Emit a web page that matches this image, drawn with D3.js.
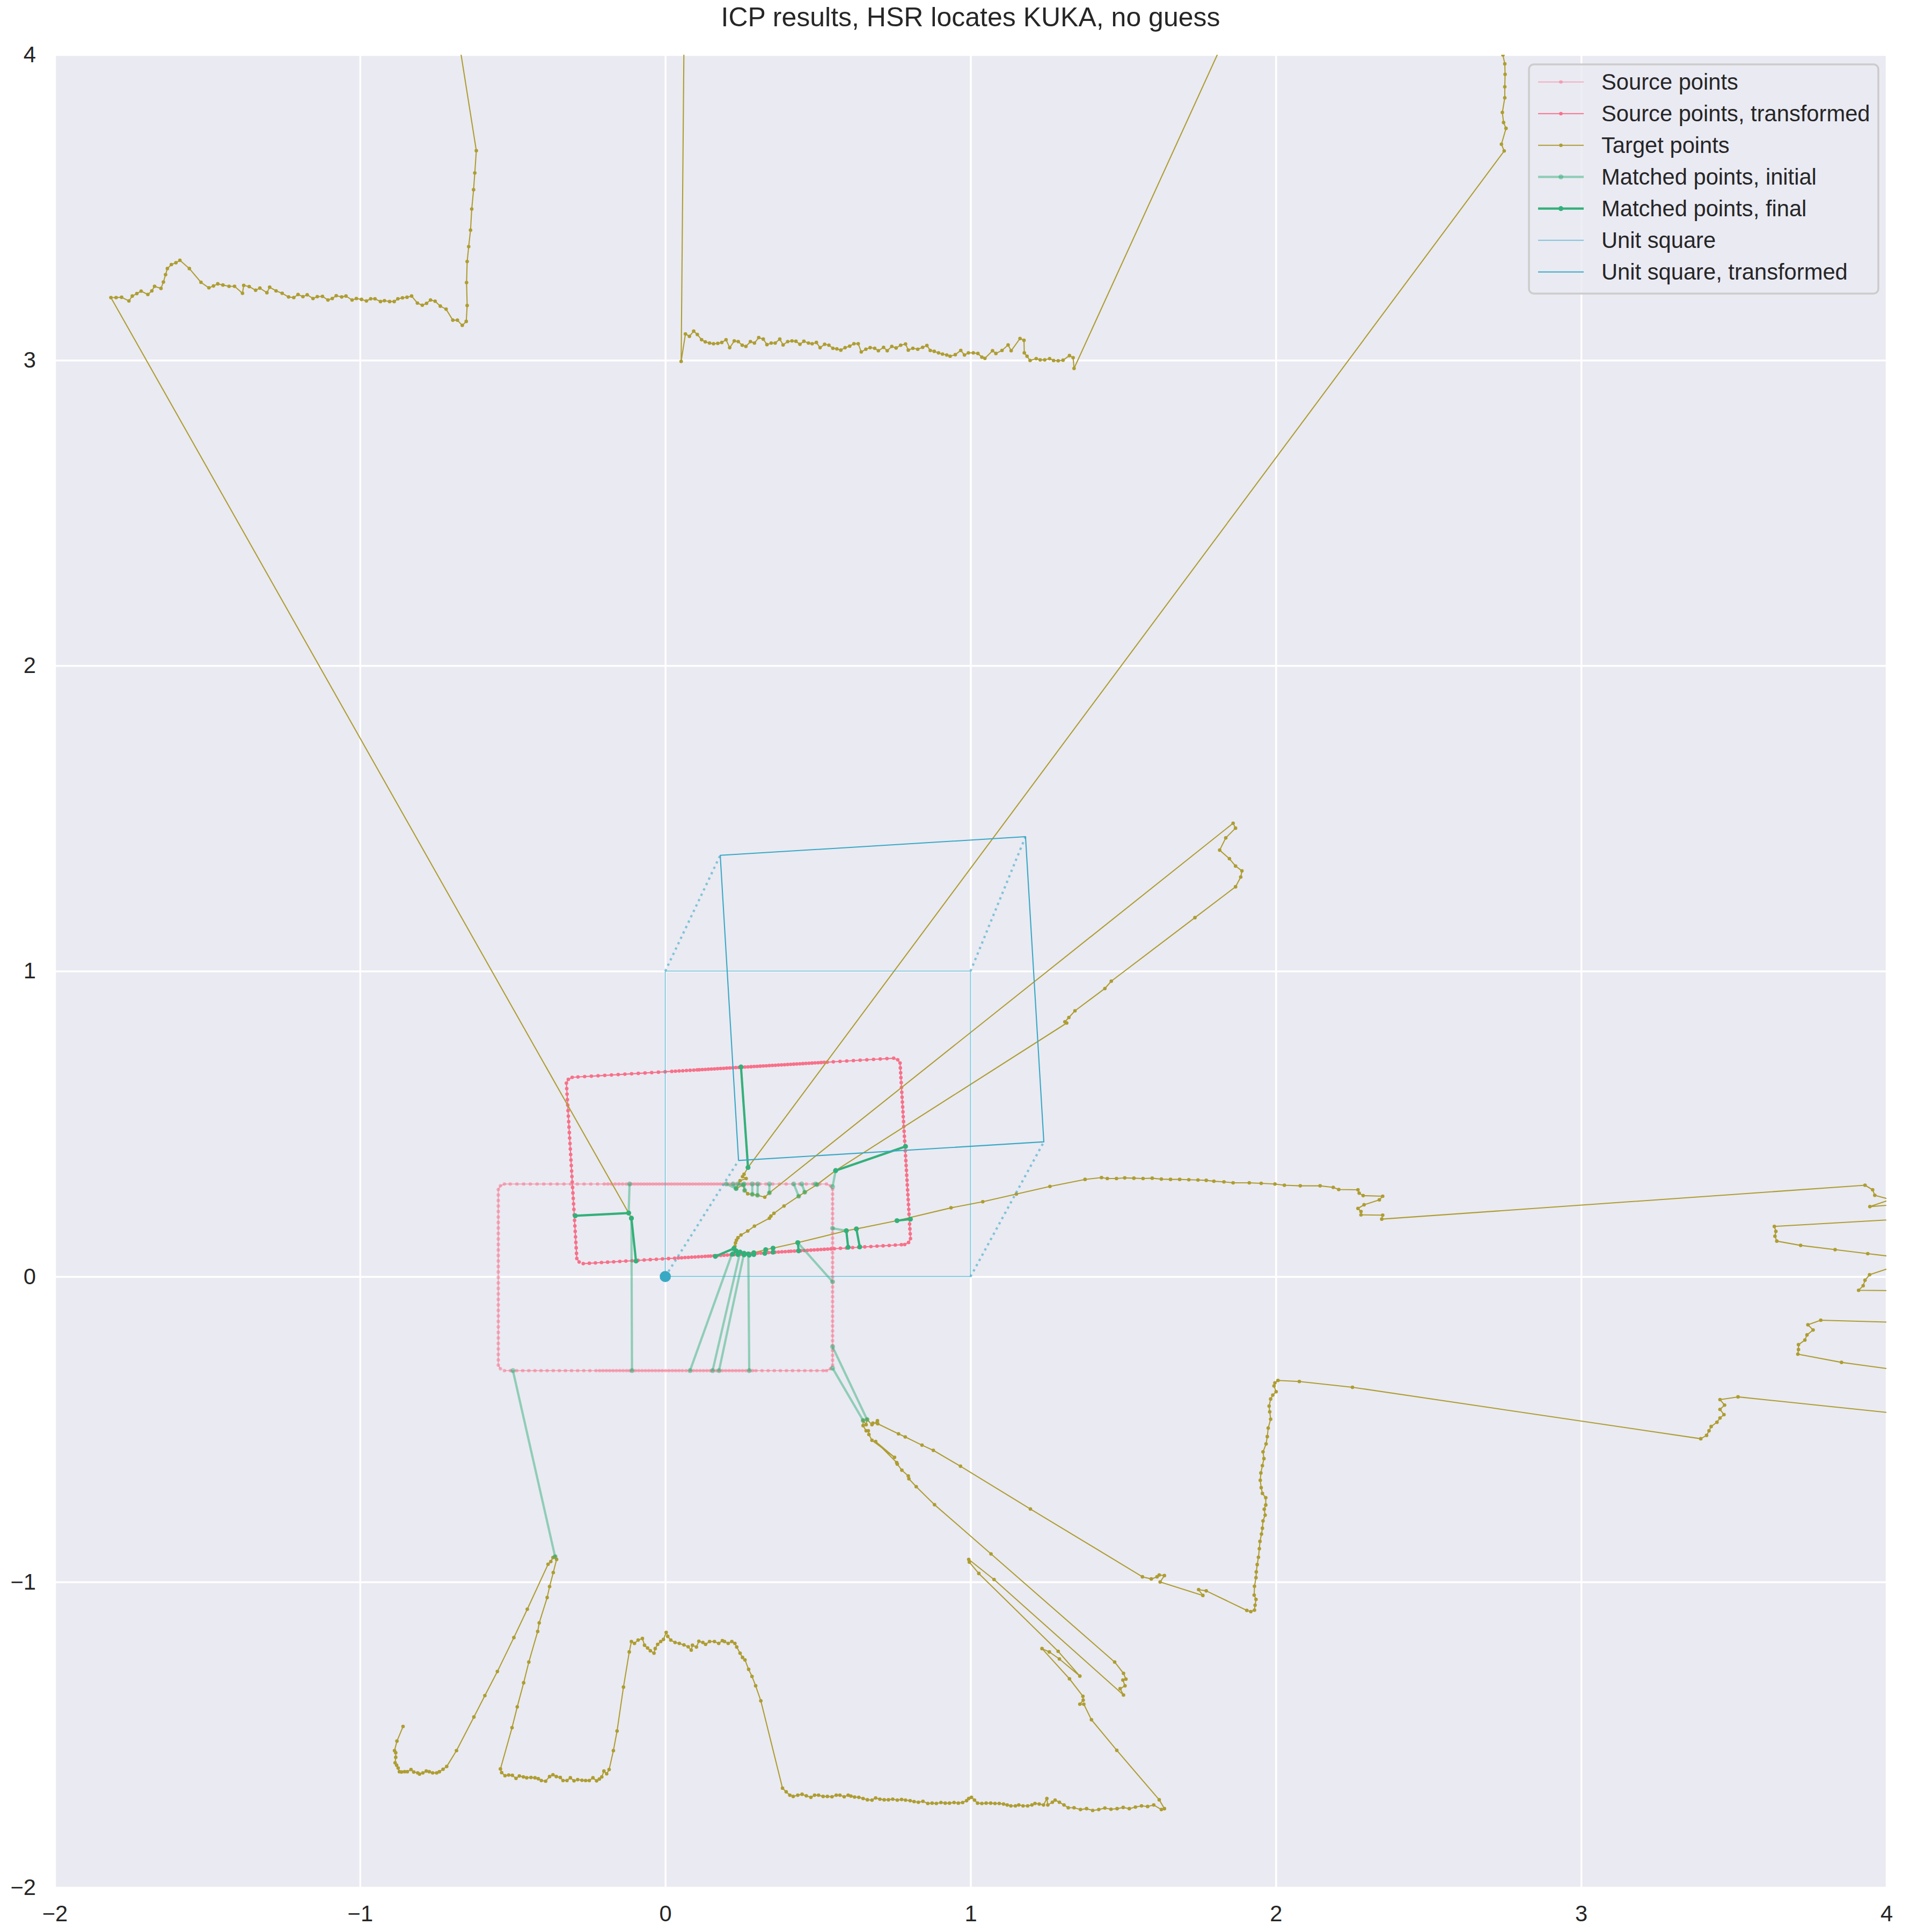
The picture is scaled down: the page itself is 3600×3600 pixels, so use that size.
<!DOCTYPE html>
<html><head><meta charset="utf-8">
<script src="https://cdn.jsdelivr.net/npm/d3@7"></script>
<style>body{margin:0;background:#fff}</style>
</head><body>
<svg id="chart" width="3600" height="3600"></svg>
<script>
// ---------------- DATA ----------------
const titleText = "ICP results, HSR locates KUKA, no guess";
const xDomain = [-2, 4];
const yDomain = [-2, 4];
const xTicks = [-2, -1, 0, 1, 2, 3, 4];
const yTicks = [-2, -1, 0, 1, 2, 3, 4];
const xTickLabels = ["\u22122", "\u22121", "0", "1", "2", "3", "4"];
const yTickLabels = ["\u22122", "\u22121", "0", "1", "2", "3", "4"];

// Source (KUKA outline) points, edge by edge
const sourceBottomY = -0.308;
const sourceBottomX = [-0.527,-0.507,-0.487,-0.467,-0.447,-0.427,-0.407,-0.387,-0.367,-0.347,-0.327,-0.307,-0.287,-0.267,-0.247,-0.227,
  -0.215,-0.204,-0.193,-0.182,-0.171,-0.160,-0.149,-0.138,-0.127,-0.117,-0.109,-0.098,-0.087,-0.076,-0.065,-0.054,-0.043,-0.032,-0.021,-0.010,
  0.001,0.012,0.023,0.034,0.045,0.056,0.068,0.081,0.092,0.103,0.114,0.125,0.136,0.147,0.155,0.166,0.176,0.187,0.198,0.209,0.220,0.231,0.242,
  0.253,0.264,0.275,0.286,0.297,0.317,0.337,0.357,0.377,0.397,0.417,0.437,0.457,0.477,0.497,0.517,0.528];
const sourceCornerBR = [[0.541,-0.302]];
const sourceRightX = 0.548;
const sourceRightY = [-0.290,-0.274,-0.258,-0.242,-0.226,-0.210,-0.194,-0.178,-0.162,-0.146,-0.130,-0.114,-0.098,-0.082,-0.066,-0.050,
  -0.034,-0.018,-0.002,0.014,0.030,0.046,0.062,0.078,0.094,0.110,0.126,0.142,0.158,0.174,0.190,0.206,0.222,0.238,0.254,0.270,0.286];
const sourceCornerTR = [[0.541,0.297]];
const sourceTopY = 0.303;
const sourceTopX = [0.528,0.506,0.484,0.462,0.440,0.418,0.396,0.374,0.352,0.330,0.310,0.300,0.290,0.280,0.270,0.260,0.250,0.240,0.230,0.220,
  0.210,0.200,0.190,0.180,0.170,0.160,0.150,0.140,0.130,0.120,0.110,0.100,0.090,0.080,0.070,0.060,0.050,0.040,0.030,0.020,0.010,0.000,
  -0.010,-0.020,-0.030,-0.040,-0.050,-0.060,-0.070,-0.080,-0.090,-0.100,-0.110,-0.117,-0.128,-0.140,-0.152,-0.164,-0.176,-0.188,-0.200,
  -0.222,-0.244,-0.266,-0.288,-0.310,-0.332,-0.354,-0.376,-0.398,-0.420,-0.442,-0.464,-0.486,-0.508,-0.527];
const sourceCornerTL = [[-0.540,0.297]];
const sourceLeftX = -0.547;
const sourceLeftY = [0.285,0.267,0.249,0.231,0.213,0.195,0.177,0.159,0.141,0.123,0.105,0.087,0.069,0.051,0.033,0.015,-0.003,-0.021,-0.039,
  -0.057,-0.075,-0.093,-0.111,-0.129,-0.147,-0.165,-0.183,-0.201,-0.219,-0.237,-0.255,-0.273,-0.290];
const sourceCornerBL = [[-0.540,-0.302]];

// ICP result (rotation matrix + translation)
const icpRotation = [[0.9982, -0.0593], [0.0593, 0.9982]];
const icpTranslation = [0.239, 0.381];

// Target (HSR laser scan) points, in scan order
const targetKukaLeft = [[-0.111,0.191],[-0.120,0.208]];
const targetTopLeft = [[-1.816,3.205],[-1.799,3.205],[-1.781,3.206],[-1.757,3.194],[-1.746,3.210],[-1.731,3.218],[-1.717,3.226],[-1.695,3.215],
  [-1.682,3.227],[-1.673,3.242],[-1.652,3.235],[-1.644,3.256],[-1.637,3.280],[-1.631,3.300],[-1.618,3.313],[-1.603,3.319],[-1.590,3.327],
  [-1.559,3.300],[-1.521,3.255],[-1.495,3.237],[-1.480,3.243],[-1.466,3.250],[-1.449,3.246],[-1.429,3.242],[-1.411,3.242],[-1.385,3.219],
  [-1.381,3.245],[-1.363,3.241],[-1.342,3.229],[-1.328,3.236],[-1.305,3.221],[-1.296,3.239],[-1.275,3.227],[-1.255,3.219],[-1.234,3.207],
  [-1.217,3.205],[-1.203,3.215],[-1.187,3.208],[-1.173,3.214],[-1.154,3.202],[-1.140,3.208],[-1.123,3.209],[-1.105,3.197],[-1.091,3.202],
  [-1.078,3.211],[-1.060,3.207],[-1.046,3.210],[-1.026,3.197],[-1.012,3.202],[-0.995,3.199],[-0.979,3.194],[-0.965,3.201],[-0.951,3.201],
  [-0.933,3.192],[-0.920,3.195],[-0.903,3.192],[-0.888,3.192],[-0.876,3.201],[-0.861,3.204],[-0.846,3.206],[-0.831,3.210],[-0.812,3.187],
  [-0.796,3.180],[-0.782,3.186],[-0.769,3.197],[-0.754,3.193],[-0.737,3.177],[-0.718,3.167],[-0.696,3.131],[-0.681,3.131],[-0.665,3.114],
  [-0.652,3.127],[-0.649,3.179],[-0.651,3.254],[-0.649,3.323],[-0.644,3.372],[-0.638,3.426],[-0.634,3.495],[-0.628,3.558],[-0.624,3.613],
  [-0.619,3.686],[-0.796,4.8],[0.068,4.8]];
const targetTopMiddle = [[0.052,2.996],[0.066,3.086],[0.079,3.078],[0.093,3.095],[0.105,3.084],[0.119,3.067],[0.131,3.060],[0.145,3.056],
  [0.158,3.054],[0.172,3.055],[0.185,3.058],[0.199,3.067],[0.211,3.041],[0.226,3.063],[0.239,3.061],[0.252,3.049],[0.264,3.045],[0.279,3.061],
  [0.292,3.056],[0.306,3.074],[0.321,3.069],[0.333,3.051],[0.347,3.056],[0.360,3.056],[0.375,3.069],[0.386,3.050],[0.401,3.061],[0.415,3.063],
  [0.428,3.062],[0.441,3.052],[0.454,3.062],[0.469,3.056],[0.481,3.054],[0.495,3.058],[0.507,3.041],[0.522,3.052],[0.536,3.049],[0.549,3.039],
  [0.562,3.037],[0.575,3.033],[0.589,3.041],[0.604,3.046],[0.618,3.054],[0.632,3.054],[0.642,3.027],[0.657,3.036],[0.671,3.041],[0.686,3.039],
  [0.698,3.031],[0.715,3.042],[0.727,3.031],[0.742,3.045],[0.756,3.040],[0.771,3.049],[0.787,3.053],[0.796,3.033],[0.811,3.039],[0.827,3.036],
  [0.843,3.042],[0.857,3.048],[0.868,3.032],[0.881,3.029],[0.895,3.024],[0.908,3.020],[0.922,3.017],[0.933,3.013],[0.950,3.018],[0.968,3.032],
  [0.980,3.017],[0.993,3.024],[1.009,3.024],[1.024,3.022],[1.037,3.010],[1.047,3.006],[1.072,3.031],[1.083,3.022],[1.103,3.032],[1.123,3.050],
  [1.133,3.031],[1.162,3.071],[1.175,3.065],[1.176,3.024],[1.185,3.013],[1.195,2.999],[1.215,3.005],[1.228,3.001],[1.243,3.001],[1.259,3.005],
  [1.272,2.999],[1.287,2.998],[1.303,3.000],[1.324,3.015],[1.336,3.008],[1.339,2.973],[1.991,4.4],[2.735,4.3]];
const targetTopRight = [[2.744,3.999],[2.750,3.970],[2.751,3.936],[2.750,3.895],[2.750,3.859],[2.742,3.811],[2.746,3.778],[2.754,3.759],
  [2.739,3.707],[2.748,3.685]];
const targetKukaTop = [[0.271,0.357],[0.258,0.335],[0.253,0.327],[0.265,0.321],[0.245,0.314],[0.232,0.288],[0.255,0.300],[0.260,0.282],
  [0.270,0.271],[0.285,0.269],[0.302,0.266],[0.326,0.260],[0.341,0.274]];
const targetFarCorner = [[1.860,1.484],[1.868,1.468],[1.836,1.436],[1.816,1.396],[1.848,1.368],[1.868,1.344],[1.889,1.328],[1.885,1.308],
  [1.868,1.276],[1.735,1.175],[1.461,0.967],[1.440,0.943],[1.342,0.870],[1.322,0.848],[1.309,0.834],[1.315,0.830],[0.558,0.347],[0.497,0.301],
  [0.457,0.276],[0.437,0.263],[0.389,0.231],[0.356,0.207],[0.346,0.198],[0.341,0.191],[0.292,0.165],[0.270,0.149],[0.248,0.136],[0.238,0.127],
  [0.233,0.119],[0.230,0.110],[0.228,0.099]];
const targetKukaBottom = [[0.225,0.092],[0.232,0.084],[0.245,0.080],[0.258,0.076],[0.272,0.074],[0.290,0.078],[0.329,0.088],[0.353,0.093],
  [0.434,0.111],[0.593,0.150],[0.626,0.156],[0.759,0.183],[0.936,0.225],[1.040,0.245],[1.150,0.270],[1.260,0.295],[1.375,0.318],[1.429,0.324],
  [1.448,0.321],[1.478,0.321],[1.505,0.323],[1.535,0.322],[1.565,0.321],[1.595,0.322],[1.625,0.319],[1.655,0.318],[1.685,0.318],[1.715,0.317],
  [1.745,0.316],[1.772,0.315],[1.797,0.312],[1.830,0.310],[1.860,0.307],[1.913,0.307],[1.952,0.305],[1.997,0.303],[2.028,0.299],[2.080,0.297],
  [2.145,0.297],[2.188,0.292],[2.206,0.285],[2.269,0.284],[2.273,0.273],[2.286,0.265],[2.350,0.263],[2.339,0.251],[2.289,0.235],[2.269,0.223],
  [2.279,0.213],[2.279,0.202],[2.350,0.201],[2.347,0.188]];
const targetRightEdge = [[3.930,0.299],[3.955,0.284],[3.962,0.266],[4.013,0.252],[3.946,0.229],[4.5,0.270],[4.5,0.214],[3.633,0.164],
  [3.638,0.148],[3.635,0.132],[3.641,0.116],[3.719,0.102],[3.832,0.088],[3.939,0.075],[4.097,0.056],[3.945,0.006],[3.930,-0.012],[3.924,-0.030],
  [3.909,-0.045],[4.5,-0.050],[4.5,-0.163],[3.785,-0.143],[3.743,-0.158],[3.760,-0.175],[3.740,-0.191],[3.733,-0.208],[3.712,-0.223],
  [3.712,-0.239],[3.710,-0.254],[3.853,-0.281],[4.5,-0.369],[4.5,-0.497],[3.514,-0.394],[3.455,-0.403],[3.470,-0.421],[3.455,-0.435],
  [3.468,-0.452],[3.455,-0.463],[3.445,-0.477],[3.426,-0.491],[3.419,-0.505],[3.411,-0.520],[3.392,-0.531],[2.251,-0.3625],[2.077,-0.3435],
  [2.007,-0.340],[1.997,-0.348]];
const targetWall = [[1.994,-0.358],[2.001,-0.377],[1.990,-0.388],[1.983,-0.401],[1.978,-0.424],[1.980,-0.443],[1.983,-0.467],[1.975,-0.496],
  [1.972,-0.524],[1.968,-0.548],[1.958,-0.574],[1.961,-0.596],[1.956,-0.619],[1.951,-0.643],[1.949,-0.667],[1.952,-0.691],[1.956,-0.710],
  [1.967,-0.724],[1.967,-0.748],[1.962,-0.762],[1.965,-0.781],[1.958,-0.800],[1.956,-0.824],[1.953,-0.843],[1.948,-0.867],[1.946,-0.891],
  [1.943,-0.919],[1.939,-0.943],[1.936,-0.967],[1.935,-0.986],[1.930,-1.014],[1.929,-1.043],[1.935,-1.057],[1.932,-1.076],[1.930,-1.092],
  [1.918,-1.097],[1.905,-1.093]];
const targetLegs = [[1.772,-1.029],[1.747,-1.025],[1.761,-1.044],[1.621,-1.000],[1.635,-0.979],[1.618,-0.977],[1.611,-0.983],[1.592,-0.990],
  [1.563,-0.983],[1.196,-0.761],[0.967,-0.621],[0.878,-0.569],[0.841,-0.552],[0.786,-0.525],[0.764,-0.515],[0.696,-0.482],[0.695,-0.472],
  [0.693,-0.479],[0.680,-0.480],[0.677,-0.485],[0.661,-0.468],[0.658,-0.485],[0.648,-0.471],[0.648,-0.488],[0.658,-0.505],[0.665,-0.505],
  [0.667,-0.517],[0.677,-0.536],[0.751,-0.592],[0.689,-0.540],[0.758,-0.609],[0.760,-0.614],[0.775,-0.634],[0.796,-0.653],[0.798,-0.662],
  [0.822,-0.688],[0.882,-0.747],[1.067,-0.908],[1.472,-1.262],[1.501,-1.299],[1.509,-1.318],[1.499,-1.321],[1.506,-1.340],[1.490,-1.349],
  [1.501,-1.370],[1.077,-0.992],[0.994,-0.926],[0.996,-0.935],[1.027,-0.972],[1.287,-1.227],[1.358,-1.308],[1.291,-1.252],[1.258,-1.229],
  [1.234,-1.218],[1.324,-1.317],[1.368,-1.374],[1.369,-1.387],[1.358,-1.400],[1.371,-1.400],[1.396,-1.451],[1.479,-1.551],[1.618,-1.713],
  [1.635,-1.742]];
const targetBottom = [[1.625,-1.745],[1.600,-1.730],[1.580,-1.735],[1.560,-1.733],[1.540,-1.737],[1.520,-1.742],[1.500,-1.738],[1.480,-1.742],
  [1.460,-1.744],[1.440,-1.740],[1.420,-1.745],[1.400,-1.748],[1.380,-1.742],[1.360,-1.745],[1.339,-1.739],[1.320,-1.739],[1.306,-1.730],
  [1.291,-1.721],[1.277,-1.714],[1.268,-1.721],[1.253,-1.730],[1.250,-1.709],[1.239,-1.730],[1.225,-1.727],[1.211,-1.725],[1.201,-1.730],
  [1.187,-1.733],[1.172,-1.733],[1.158,-1.730],[1.147,-1.733],[1.132,-1.733],[1.120,-1.730],[1.108,-1.727],[1.094,-1.725],[1.080,-1.725],
  [1.066,-1.724],[1.051,-1.724],[1.037,-1.725],[1.023,-1.724],[1.013,-1.714],[1.003,-1.705],[0.994,-1.709],[0.987,-1.716],[0.974,-1.722],
  [0.960,-1.724],[0.946,-1.722],[0.931,-1.724],[0.917,-1.724],[0.903,-1.722],[0.888,-1.725],[0.874,-1.724],[0.860,-1.725],[0.844,-1.718],
  [0.829,-1.721],[0.815,-1.719],[0.802,-1.716],[0.787,-1.714],[0.774,-1.712],[0.760,-1.714],[0.745,-1.711],[0.731,-1.713],[0.717,-1.713],
  [0.703,-1.711],[0.689,-1.707],[0.677,-1.714],[0.662,-1.713],[0.648,-1.709],[0.634,-1.705],[0.620,-1.704],[0.608,-1.701],[0.599,-1.698],
  [0.586,-1.703],[0.572,-1.698],[0.560,-1.698],[0.546,-1.703],[0.531,-1.702],[0.517,-1.702],[0.502,-1.698],[0.489,-1.698],[0.477,-1.705],
  [0.462,-1.700],[0.448,-1.695],[0.434,-1.698],[0.419,-1.702],[0.408,-1.698],[0.396,-1.687],[0.384,-1.675],[0.313,-1.389],[0.296,-1.340],
  [0.284,-1.309],[0.273,-1.286],[0.261,-1.255],[0.253,-1.247],[0.245,-1.233],[0.234,-1.213],[0.228,-1.201],[0.218,-1.195],[0.206,-1.201],
  [0.194,-1.195],[0.187,-1.192],[0.175,-1.201],[0.161,-1.195],[0.145,-1.195],[0.132,-1.204],[0.123,-1.198],[0.110,-1.194],[0.102,-1.213],
  [0.089,-1.207],[0.085,-1.223],[0.075,-1.212],[0.061,-1.206],[0.046,-1.201],[0.032,-1.198],[0.018,-1.190],[0.008,-1.178],[0.003,-1.165],
  [-0.006,-1.188],[-0.015,-1.195],[-0.025,-1.204],[-0.033,-1.218],[-0.037,-1.233],[-0.049,-1.225],[-0.058,-1.216],[-0.068,-1.207],
  [-0.075,-1.185],[-0.089,-1.190],[-0.101,-1.201],[-0.111,-1.195],[-0.118,-1.229],[-0.137,-1.344],[-0.158,-1.488],[-0.170,-1.552],
  [-0.184,-1.614],[-0.192,-1.628],[-0.201,-1.619],[-0.208,-1.638],[-0.216,-1.645],[-0.225,-1.651],[-0.237,-1.641],[-0.249,-1.650],
  [-0.261,-1.650],[-0.273,-1.649],[-0.287,-1.647],[-0.299,-1.651],[-0.311,-1.641],[-0.322,-1.650],[-0.335,-1.650],[-0.344,-1.640],
  [-0.357,-1.637],[-0.368,-1.631],[-0.379,-1.637],[-0.392,-1.652],[-0.406,-1.650],[-0.416,-1.644],[-0.427,-1.641],[-0.440,-1.640],
  [-0.454,-1.641],[-0.465,-1.638],[-0.478,-1.635],[-0.489,-1.643],[-0.501,-1.633],[-0.513,-1.632],[-0.525,-1.634],[-0.536,-1.624],
  [-0.540,-1.612]];
const targetBottomLeft = [[-0.502,-1.477],[-0.485,-1.409],[-0.464,-1.330],[-0.447,-1.262],[-0.418,-1.162],[-0.413,-1.134],[-0.387,-1.051],
  [-0.379,-1.015],[-0.367,-0.969],[-0.356,-0.926],[-0.361,-0.917],[-0.368,-0.920],[-0.375,-0.933],[-0.384,-0.942],[-0.452,-1.089],
  [-0.496,-1.182],[-0.550,-1.293],[-0.591,-1.372],[-0.627,-1.442],[-0.684,-1.552],[-0.716,-1.604],[-0.728,-1.613],[-0.740,-1.621],
  [-0.749,-1.625],[-0.762,-1.625],[-0.773,-1.621],[-0.783,-1.619],[-0.794,-1.625],[-0.805,-1.629],[-0.811,-1.625],[-0.824,-1.622],
  [-0.833,-1.614],[-0.845,-1.621],[-0.854,-1.621],[-0.864,-1.622],[-0.871,-1.621],[-0.875,-1.609],[-0.880,-1.600],[-0.885,-1.592],
  [-0.883,-1.574],[-0.883,-1.559],[-0.887,-1.552],[-0.879,-1.521],[-0.859,-1.473]];

// Matched pairs: [sourceX, sourceY, targetX, targetY]
const matchedInitial = [
  [-0.117,0.303,-0.120,0.208],[-0.109,-0.308,-0.111,0.191],[-0.499,-0.308,-0.361,-0.917],
  [0.081,-0.308,0.225,0.092],[0.155,-0.308,0.245,0.080],[0.176,-0.308,0.258,0.076],[0.275,-0.308,0.272,0.074],
  [0.548,0.294,0.558,0.347],[0.548,0.158,0.593,0.150],[0.548,-0.017,0.434,0.111],
  [0.548,-0.230,0.661,-0.468],[0.548,-0.300,0.648,-0.471],
  [0.200,0.303,0.232,0.288],[0.222,0.303,0.232,0.288],[0.238,0.303,0.255,0.300],[0.258,0.303,0.260,0.282],
  [0.285,0.303,0.285,0.269],[0.303,0.303,0.302,0.266],[0.341,0.303,0.341,0.274],[0.421,0.303,0.437,0.263],
  [0.447,0.303,0.457,0.276],[0.492,0.303,0.497,0.301]];
const matchedFinal = [
  [0.248,0.686,0.271,0.357],[-0.295,0.199,-0.120,0.208],[-0.096,0.051,-0.111,0.191],[0.787,0.426,0.558,0.347],
  [0.164,0.066,0.225,0.092],[0.220,0.073,0.232,0.084],[0.238,0.072,0.245,0.080],[0.258,0.071,0.258,0.076],
  [0.275,0.070,0.272,0.074],[0.290,0.072,0.290,0.078],[0.326,0.076,0.329,0.088],[0.353,0.080,0.353,0.093],
  [0.437,0.084,0.434,0.111],[0.599,0.096,0.593,0.150],[0.637,0.097,0.626,0.156],[0.803,0.188,0.759,0.183]];

const unitSquare = [[0,0],[1,0],[1,1],[0,1]];
const unitSquareTransformed = [[0.240,0.380],[1.240,0.441],[1.180,1.440],[0.180,1.379]];
const originPoint = [0, 0];

const legendLabels = ["Source points", "Source points, transformed", "Target points", "Matched points, initial",
  "Matched points, final", "Unit square", "Unit square, transformed"];

// ---------------- BUILD ----------------
const sourcePoints = [].concat(
  sourceBottomX.map(v => [v, sourceBottomY]), sourceCornerBR,
  sourceRightY.map(v => [sourceRightX, v]), sourceCornerTR,
  sourceTopX.map(v => [v, sourceTopY]), sourceCornerTL,
  sourceLeftY.map(v => [sourceLeftX, v]), sourceCornerBL);
const applyIcp = p => [icpRotation[0][0]*p[0] + icpRotation[0][1]*p[1] + icpTranslation[0],
                       icpRotation[1][0]*p[0] + icpRotation[1][1]*p[1] + icpTranslation[1]];
const sourceTransformed = sourcePoints.map(applyIcp);
const targetPoints = [].concat(targetKukaLeft, targetTopLeft, targetTopMiddle, targetTopRight, targetKukaTop,
  targetFarCorner, targetKukaBottom, targetRightEdge, targetWall, targetLegs, targetBottom, targetBottomLeft);

// ---------------- STYLE ----------------
const FONT = "'Liberation Sans', Arial, 'DejaVu Sans', sans-serif";
const C_SRC = "#f77189", C_TGT = "#ae9d31", C_MATCH = "#33b07a", C_SQ = "#38a9c5";
const TXT = "#262626";
const styles = [
  {color: C_SRC, op: 0.5, w: 2.1, r: 3.3},
  {color: C_SRC, op: 1.0, w: 2.1, r: 3.3},
  {color: C_TGT, op: 1.0, w: 2.1, r: 3.3},
  {color: C_MATCH, op: 0.5, w: 4.2, r: 4.6},
  {color: C_MATCH, op: 1.0, w: 4.2, r: 4.6},
  {color: C_SQ, op: 0.6, w: 2.1, r: 0},
  {color: C_SQ, op: 1.0, w: 2.1, r: 0}];

const L = 102, R = 3515, T = 102, B = 3517;
const svg = d3.select("#chart");
svg.append("rect").attr("width", 3600).attr("height", 3600).attr("fill", "#ffffff");
const x = d3.scaleLinear().domain(xDomain).range([L, R]);
const y = d3.scaleLinear().domain(yDomain).range([B, T]);

svg.append("rect").attr("x", L).attr("y", T).attr("width", R - L).attr("height", B - T).attr("fill", "#eaeaf2");
svg.append("defs").append("clipPath").attr("id", "pc").append("rect")
  .attr("x", L).attr("y", T).attr("width", R - L).attr("height", B - T);

// grid
svg.append("g").attr("transform", `translate(0,${B})`)
  .call(d3.axisBottom(x).tickValues(xTicks).tickSize(-(B - T)).tickFormat(""))
  .call(g => g.select(".domain").remove())
  .call(g => g.selectAll("line").attr("stroke", "#ffffff").attr("stroke-width", 3.5));
svg.append("g").attr("transform", `translate(${L},0)`)
  .call(d3.axisLeft(y).tickValues(yTicks).tickSize(-(R - L)).tickFormat(""))
  .call(g => g.select(".domain").remove())
  .call(g => g.selectAll("line").attr("stroke", "#ffffff").attr("stroke-width", 3.5));

// tick labels
svg.append("g").attr("transform", `translate(0,${B})`)
  .call(d3.axisBottom(x).tickValues(xTicks).tickSize(0).tickPadding(33).tickFormat((d, i) => xTickLabels[i]))
  .call(g => g.select(".domain").remove())
  .attr("font-size", 41.7).attr("font-family", FONT).attr("color", TXT);
svg.append("g").attr("transform", `translate(${L},0)`)
  .call(d3.axisLeft(y).tickValues(yTicks).tickSize(0).tickPadding(35).tickFormat((d, i) => yTickLabels[i]))
  .call(g => g.select(".domain").remove())
  .attr("font-size", 41.7).attr("font-family", FONT).attr("color", TXT);

const plot = svg.append("g").attr("clip-path", "url(#pc)");
const line = d3.line().x(d => x(d[0])).y(d => y(d[1]));

function series(pts, s) {
  const g = plot.append("g");
  g.append("path").attr("d", line(pts)).attr("fill", "none").attr("stroke", s.color)
    .attr("stroke-opacity", s.op).attr("stroke-width", s.w).attr("stroke-linejoin", "round");
  if (s.r > 0) {
    g.selectAll("circle").data(pts).join("circle")
      .attr("cx", d => x(d[0])).attr("cy", d => y(d[1])).attr("r", s.r)
      .attr("fill", s.color).attr("fill-opacity", s.op);
  }
}

series(sourcePoints, styles[0]);
series(sourceTransformed, styles[1]);
series(targetPoints, styles[2]);
matchedInitial.forEach(m => series([[m[0], m[1]], [m[2], m[3]]], styles[3]));
matchedFinal.forEach(m => series([[m[0], m[1]], [m[2], m[3]]], styles[4]));
series(unitSquare.concat([unitSquare[0]]), styles[5]);
series(unitSquareTransformed.concat([unitSquareTransformed[0]]), styles[6]);
unitSquare.forEach((p, i) => {
  plot.append("path").attr("d", line([p, unitSquareTransformed[i]])).attr("fill", "none")
    .attr("stroke", C_SQ).attr("stroke-opacity", 0.6).attr("stroke-width", 4.2)
    .attr("stroke-dasharray", "4.2 6.9");
});
plot.append("circle").attr("cx", x(originPoint[0])).attr("cy", y(originPoint[1])).attr("r", 10.4).attr("fill", C_SQ);

// title
svg.append("text").attr("x", (L + R) / 2).attr("y", 49).attr("text-anchor", "middle")
  .attr("font-family", FONT).attr("font-size", 50).attr("fill", TXT).text(titleText);

// legend
const lg = svg.append("g");
lg.append("rect").attr("x", 2849).attr("y", 120).attr("width", 651).attr("height", 427).attr("rx", 9)
  .attr("fill", "#eaeaf2").attr("fill-opacity", 0.8).attr("stroke", "#cccccc").attr("stroke-width", 3.5);
legendLabels.forEach((lab, i) => {
  const cy = 152.7 + i * 59;
  const s = styles[i];
  lg.append("line").attr("x1", 2866).attr("x2", 2951).attr("y1", cy).attr("y2", cy)
    .attr("stroke", s.color).attr("stroke-opacity", s.op).attr("stroke-width", s.w);
  if (s.r > 0) lg.append("circle").attr("cx", 2908.5).attr("cy", cy).attr("r", s.r)
    .attr("fill", s.color).attr("fill-opacity", s.op);
  lg.append("text").attr("x", 2984).attr("y", cy + 14.5).attr("font-family", FONT)
    .attr("font-size", 41.7).attr("fill", TXT).text(lab);
});
</script>
</body></html>
